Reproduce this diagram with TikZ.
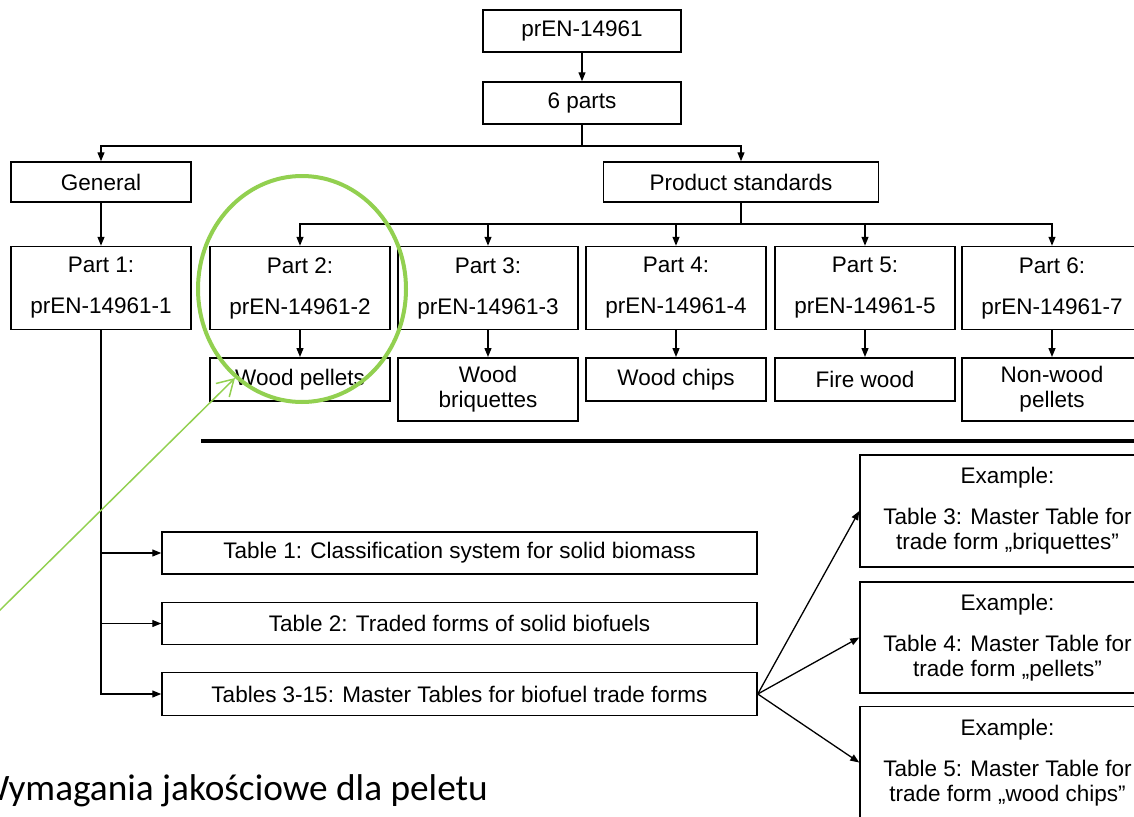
\documentclass[tikz,border=0pt]{standalone}
\usepackage{fontspec}
\setmainfont{Liberation Sans}
\newfontfamily\captionfont{Carlito}
\usetikzlibrary{arrows.meta}
\definecolor{markgreen}{RGB}{146,208,80}

\tikzset{
  box/.style={draw, line width=1.5pt, inner sep=0pt, align=center,
    font=\fontsize{22.5}{25}\selectfont, minimum width=180pt},
  partbox/.style={box, minimum height=83pt},
  arr/.style={-{Triangle[length=9pt,width=7pt]}, line width=1.3pt},
}

\begin{document}
\begin{tikzpicture}[x=1pt, y=-1pt]
\useasboundingbox (0,0) rectangle (1134,816);
\clip (0,0) rectangle (1134,816);

\node[box, minimum width=198pt, minimum height=42pt] (std) at (582,31) {prEN-14961};
\node[box, minimum width=198pt, minimum height=42pt] (sixparts) at (582,103) {6 parts};
\node[box, minimum height=40pt] (general) at (101,182) {General};
\node[box, minimum width=275pt, minimum height=40pt] (prodstd) at (741,182) {Product standards};

\node[partbox] (part1) at (101,288) {Part 1:\\[16pt]prEN-14961-1};
\foreach \i/\x/\n in {2/300/2, 3/488/3, 4/676/4, 5/865/5, 6/1052/7}
  \node[partbox] (part\i) at (\x,288) {Part \i:\\[16pt]prEN-14961-\n};

\node[box, anchor=north, minimum height=43pt] (prod2) at (300,357) {Wood pellets};
\node[box, anchor=north, minimum height=63pt] (prod3) at (488,357) {Wood\\briquettes};
\node[box, anchor=north, minimum height=43pt] (prod4) at (676,357) {Wood chips};
\node[box, anchor=north, minimum height=43pt] (prod5) at (865,357) {Fire wood};
\node[box, anchor=north, minimum height=63pt] (prod6) at (1052,357) {Non-wood\\pellets};

\node[box, minimum width=595pt, minimum height=42pt] (tab1) at (459.5,553) {Table 1: Classification system for solid biomass};
\node[box, minimum width=595pt, minimum height=42pt] (tab2) at (459.5,623.5) {Table 2: Traded forms of solid biofuels};
\node[box, minimum width=595pt, minimum height=43pt] (tab3) at (459.5,694) {Tables 3-15: Master Tables for biofuel trade forms};

\node[box, minimum width=295pt, minimum height=112pt] (ex1) at (1007.5,511) {Example:\\[16pt]Table 3: Master Table for\\trade form „briquettes"};
\node[box, minimum width=295pt, minimum height=111pt] (ex2) at (1007.5,637.5) {Example:\\[16pt]Table 4: Master Table for\\trade form „pellets"};
\node[box, minimum width=295pt, minimum height=112pt] (ex3) at (1007.5,762.5) {Example:\\[16pt]Table 5: Master Table for\\trade form „wood chips"};

\coordinate (split) at (582,146);
\coordinate (fork) at (741,224);
\draw[arr] (std) -- (sixparts);
\draw[line width=1.3pt] (sixparts) -- (split);
\draw[arr] (split) -| (general);
\draw[arr] (split) -| (prodstd);
\draw[arr] (general) -- (part1);
\draw[line width=1.3pt] (prodstd) -- (fork);
\foreach \i in {2,...,6} {
  \draw[arr] (fork) -| (part\i);
  \draw[arr] (part\i) -- (prod\i);
}
\draw[arr] (part1) |- (tab3);
\draw[arr] (part1.south |- tab1) -- (tab1);
\draw[arr] (part1.south |- tab2) -- (tab2);
\foreach \i in {1,2,3}
  \draw[arr] (tab3.east) -- (ex\i.west);

\draw[line width=4pt] (201,441) -- (1140,441);

\node[font=\captionfont\fontsize{37.3}{42}\selectfont, anchor=base east, inner sep=0pt] (caption) at (488,800) {Wymagania jakościowe dla peletu};

\draw[markgreen, line width=4pt] (302,289) ellipse [x radius=104, y radius=113];
\draw[markgreen, line width=1.5pt, -{Straight Barb[length=16pt,width=19pt]}] (-5,615) -- (235,378);
\end{tikzpicture}
\end{document}
